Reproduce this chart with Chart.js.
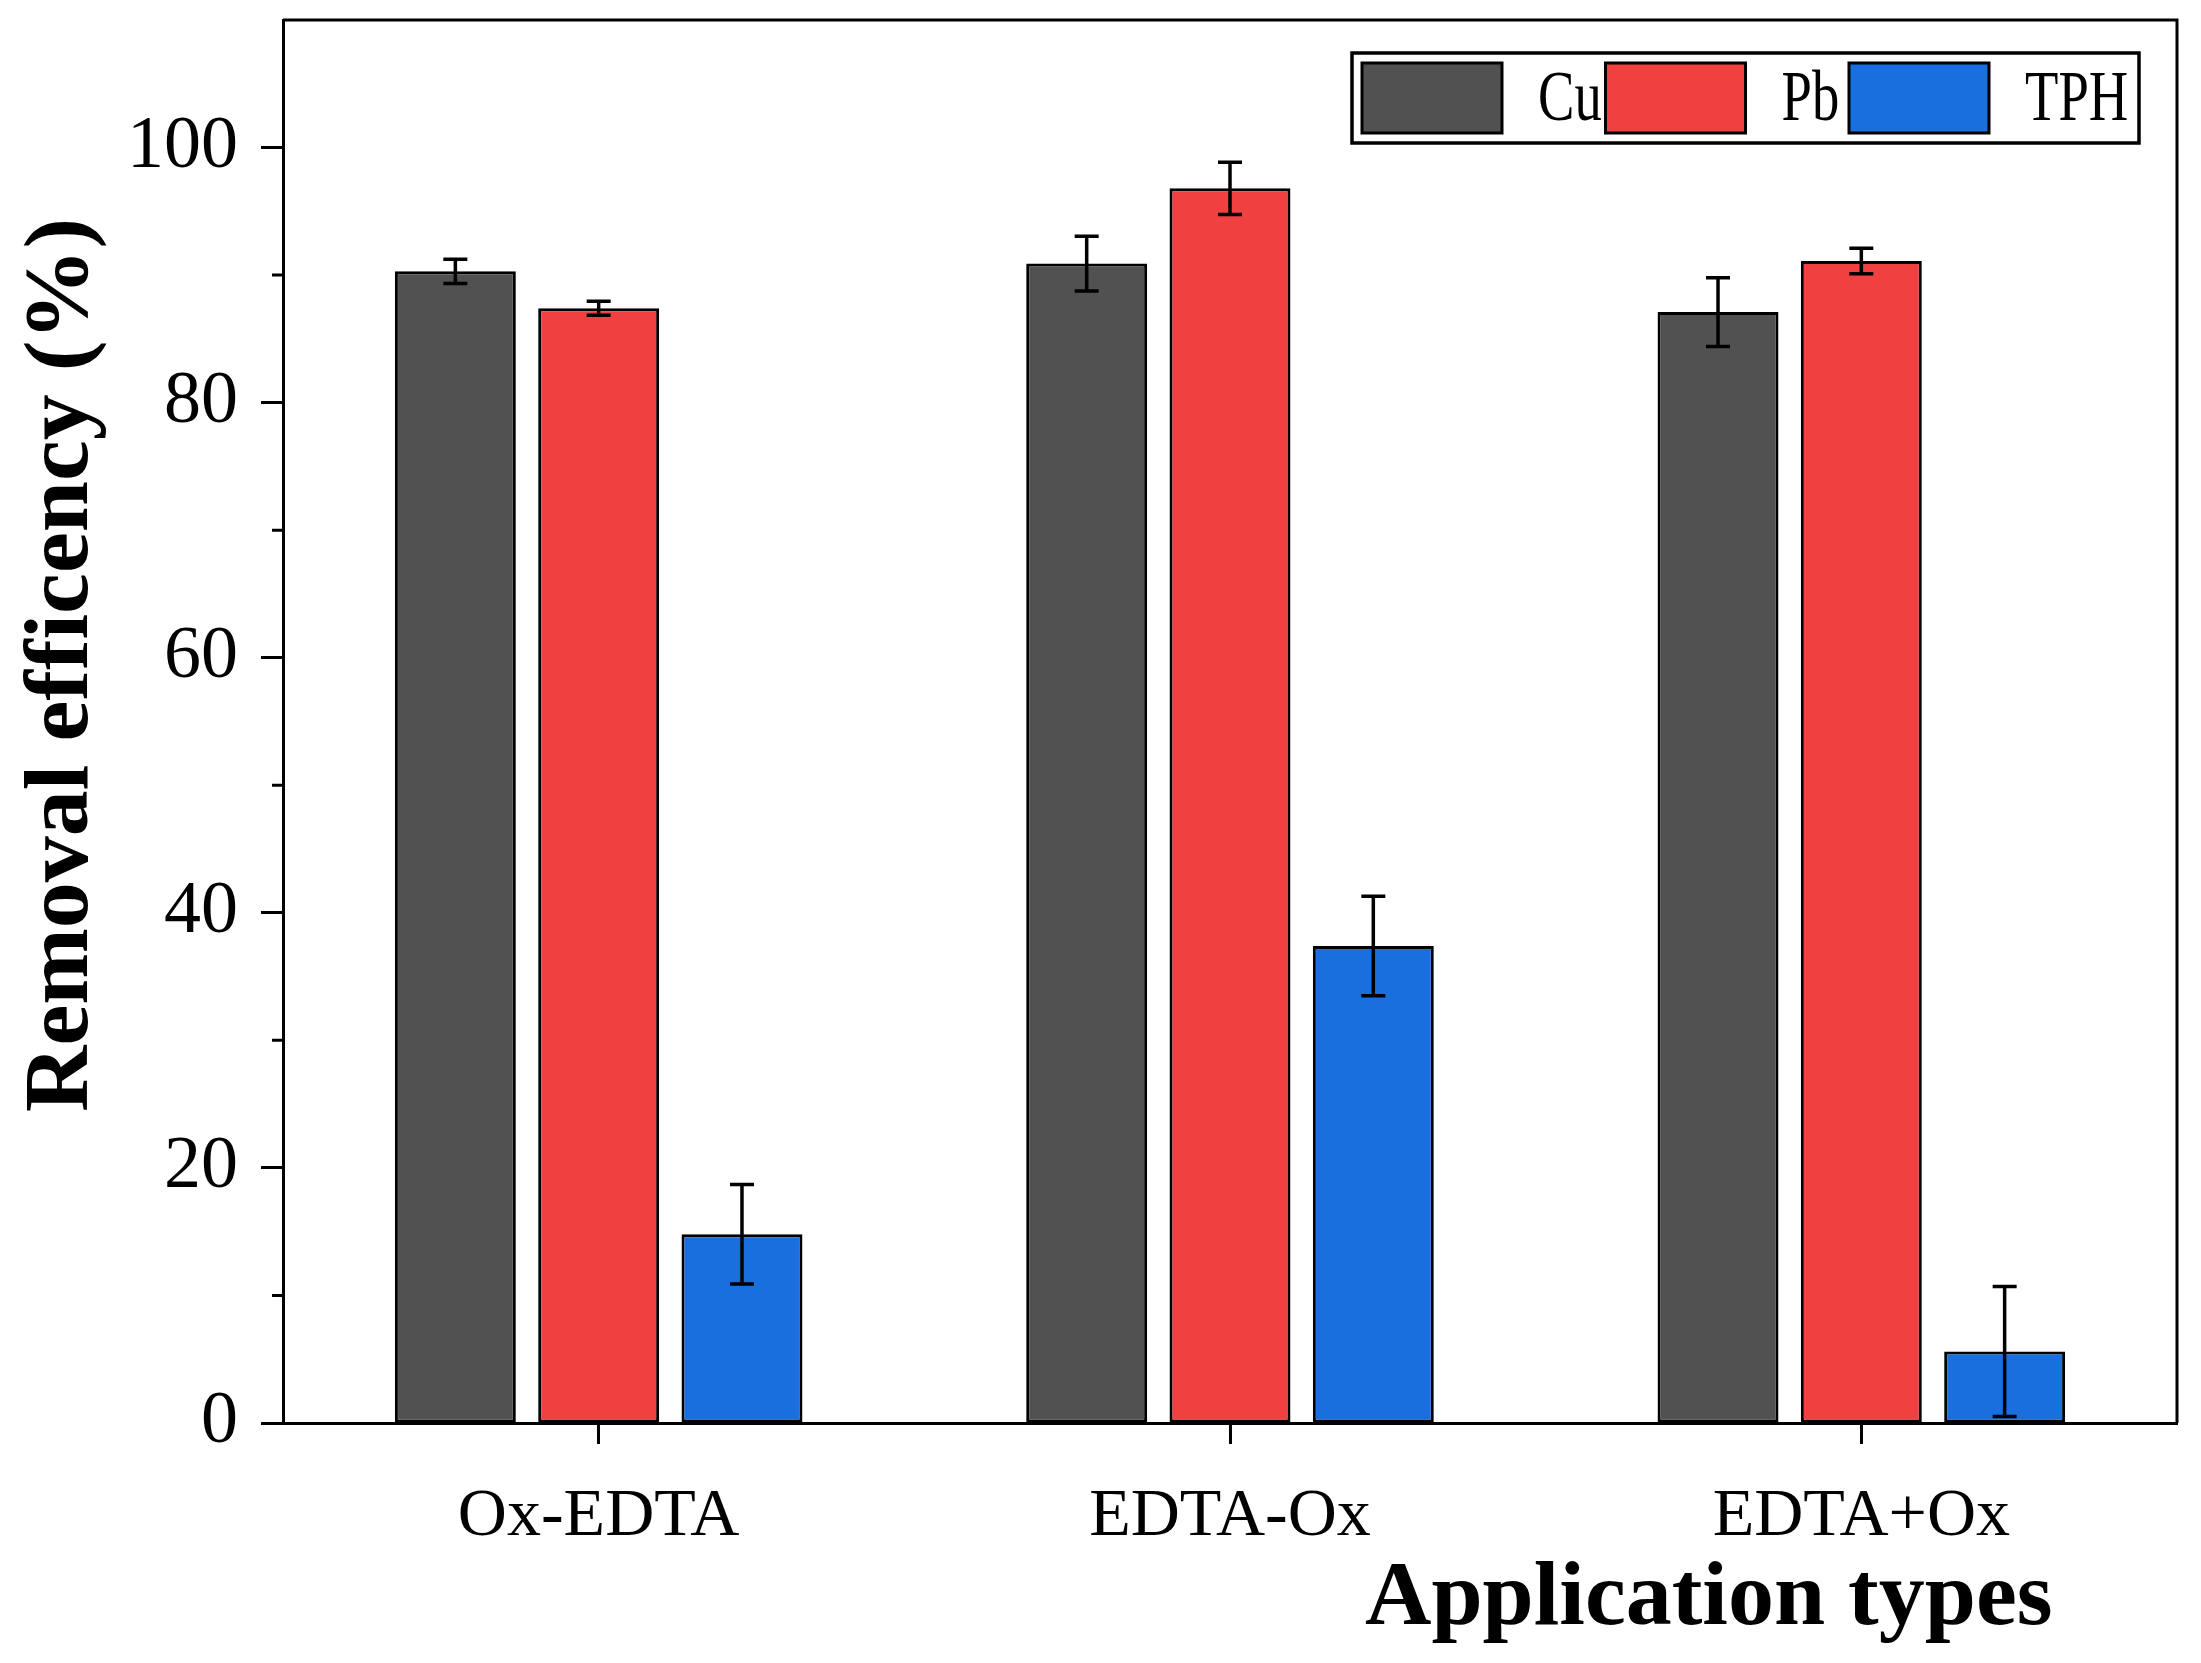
<!DOCTYPE html>
<html>
<head>
<meta charset="utf-8">
<title>Removal efficency</title>
<script src="https://cdn.jsdelivr.net/npm/chart.js@4.4.0/dist/chart.umd.min.js"></script>
<style>
  html, body { margin: 0; padding: 0; background: #fff; }
  #wrap { width: 2201px; height: 1663px; }
</style>
</head>
<body>
<div id="wrap"><canvas id="removal_chart"></canvas></div>
<script>
// values
var categories = ['Ox-EDTA', 'EDTA-Ox', 'EDTA+Ox'];
var seriesNames = ['Cu', 'Pb', 'TPH'];
var cuValues = [90.3, 90.9, 87.1];
var pbValues = [87.4, 96.8, 91.1];
var tphValues = [14.8, 37.4, 5.6];
var cuErrors = [0.95, 2.15, 2.7];
var pbErrors = [0.55, 2.05, 1.0];
var tphErrors = [3.9, 3.9, 5.1];
var yMajorTicks = [0, 20, 40, 60, 80, 100];
var yMinorTicks = [10, 30, 50, 70, 90];
var seriesColors = ['#515151', '#F14040', '#1A6FDF'];

var yTitle = 'Removal efficency (%)';
var xTitle = 'Application types';
var serif = '"Liberation Serif", "Times New Roman", serif';

function makeDataset(index, values, errors) {
    return {
        label: seriesNames[index],
        data: values,
        errors: errors,
        backgroundColor: seriesColors[index],
        borderColor: '#000',
        borderWidth: 3,
        borderSkipped: false,
        categoryPercentage: 0.681,
        barPercentage: 0.844
    };
}

// error bars, drawn from the bar elements and the y scale
var errorBars = {
    id: 'errorBars',
    afterDatasetsDraw: function(chart) {
        var ctx = chart.ctx;
        var yScale = chart.scales.y;
        ctx.save();
        ctx.strokeStyle = '#000';
        ctx.lineWidth = 3.5;
        chart.data.datasets.forEach(function(ds, i) {
            chart.getDatasetMeta(i).data.forEach(function(bar, j) {
                var hi = yScale.getPixelForValue(ds.data[j] + ds.errors[j]);
                var lo = yScale.getPixelForValue(ds.data[j] - ds.errors[j]);
                var cap = 12;
                ctx.beginPath();
                ctx.moveTo(bar.x, hi);
                ctx.lineTo(bar.x, lo);
                ctx.moveTo(bar.x - cap, hi);
                ctx.lineTo(bar.x + cap, hi);
                ctx.moveTo(bar.x - cap, lo);
                ctx.lineTo(bar.x + cap, lo);
                ctx.stroke();
            });
        });
        ctx.restore();
    }
};

// frame, minor ticks, boxed legend and axis titles
var decorations = {
    id: 'decorations',
    afterDraw: function(chart) {
        var ctx = chart.ctx;
        var area = chart.chartArea;
        var yScale = chart.scales.y;
        ctx.save();

        ctx.strokeStyle = '#000';
        ctx.lineWidth = 3;
        ctx.beginPath();
        ctx.moveTo(area.left, area.top);
        ctx.lineTo(area.right, area.top);
        ctx.lineTo(area.right, area.bottom);
        ctx.stroke();

        ctx.beginPath();
        yMinorTicks.forEach(function(v) {
            var py = yScale.getPixelForValue(v);
            ctx.moveTo(area.left - 11, py);
            ctx.lineTo(area.left, py);
        });
        ctx.stroke();

        // legend
        var boxX = area.right - 825;
        var boxY = area.top + 33;
        ctx.lineWidth = 3.5;
        ctx.strokeRect(boxX, boxY, 787, 90);
        ctx.font = '71px ' + serif;
        ctx.fillStyle = '#000';
        ctx.textBaseline = 'alphabetic';
        chart.data.datasets.forEach(function(ds, i) {
            var sx = boxX + 10 + i * 243.5;
            ctx.fillStyle = ds.backgroundColor;
            ctx.fillRect(sx, boxY + 10, 140, 70);
            ctx.lineWidth = 3;
            ctx.strokeRect(sx, boxY + 10, 140, 70);
            ctx.fillStyle = '#000';
            ctx.save();
            ctx.translate(sx + 176, boxY + 67);
            ctx.scale(0.77, 1);
            ctx.fillText(ds.label, 0, 0);
            ctx.restore();
        });

        // axis titles
        ctx.fillStyle = '#000';
        ctx.font = 'bold 92px ' + serif;
        ctx.textAlign = 'left';
        ctx.fillText(xTitle, area.right - 812, area.bottom + 201);

        ctx.save();
        ctx.translate(area.left - 196, area.top + 645);
        ctx.rotate(-Math.PI / 2);
        ctx.textAlign = 'center';
        ctx.fillText(yTitle, 0, 0);
        ctx.restore();

        ctx.restore();
    }
};

var config = {
    type: 'bar',
    data: {
        labels: categories,
        datasets: [
            makeDataset(0, cuValues, cuErrors),
            makeDataset(1, pbValues, pbErrors),
            makeDataset(2, tphValues, tphErrors)
        ]
    },
    options: {
        responsive: true,
        maintainAspectRatio: false,
        devicePixelRatio: 1,
        animation: false,
        layout: { padding: { top: 20, right: 24, left: 0, bottom: 0 } },
        plugins: {
            legend: { display: false },
            tooltip: { enabled: false }
        },
        scales: {
            x: {
                afterFit: function(scale) {
                    scale.height = 240;
                    scale.paddingLeft = 0;
                    scale.paddingRight = 0;
                },
                grid: {
                    offset: false,
                    drawOnChartArea: false,
                    tickLength: 21,
                    tickWidth: 3,
                    tickColor: '#000'
                },
                border: { display: true, color: '#000', width: 3 },
                ticks: {
                    color: '#000',
                    padding: 32,
                    font: { family: serif, size: 68 }
                }
            },
            y: {
                min: 0,
                max: 110,
                afterFit: function(scale) {
                    scale.width = 283;
                    scale.paddingTop = 0;
                    scale.paddingBottom = 0;
                },
                grid: {
                    drawOnChartArea: false,
                    tickLength: 22,
                    tickWidth: 3,
                    tickColor: function(c) {
                        return yMajorTicks.indexOf(c.tick.value) >= 0 ? '#000' : 'rgba(0,0,0,0)';
                    }
                },
                border: { display: true, color: '#000', width: 3 },
                ticks: {
                    stepSize: 10,
                    color: '#000',
                    padding: 23,
                    font: { family: serif, size: 74 },
                    callback: function(value) {
                        return yMajorTicks.indexOf(value) >= 0 ? value : '';
                    }
                }
            }
        }
    },
    plugins: [errorBars, decorations]
};

new Chart(document.getElementById('removal_chart'), config);
</script>
</body>
</html>
